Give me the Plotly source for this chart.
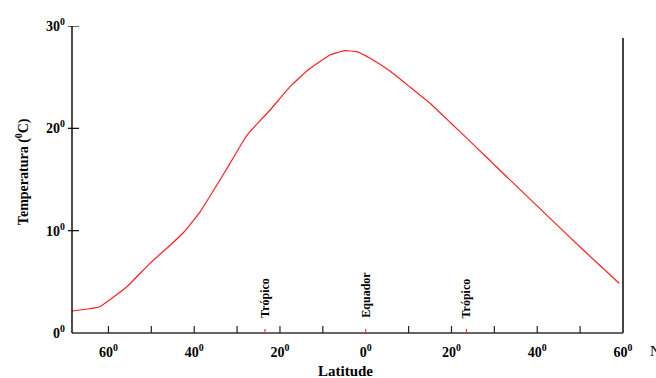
import plotly.graph_objects as go

# Mean surface temperature by latitude (south negative, north positive)
latitude = [-68.5, -62.0, -55.7, -50.3, -45.3, -42.5, -38.65, -34.0, -31.65, -28.16,
            -27.0, -22.3, -17.66, -13.46, -8.37, -4.87, -2.11, 1.0, 5.66, 10.32,
            14.99, 19.65, 23.92, 32.87, 42.58, 50.74, 59.1]
temperature = [2.15, 2.57, 4.52, 6.81, 8.7, 9.82, 11.82, 14.95, 16.58, 19.03,
               19.67, 21.79, 24.07, 25.7, 27.17, 27.59, 27.49, 26.84, 25.6, 24.04,
               22.45, 20.6, 18.9, 15.27, 11.37, 8.11, 4.86]

x_tick_vals = [-60, -40, -20, 0, 20, 40, 60]
x_tick_text = ["60", "40", "20", "0", "20", "40", "60"]
x_minor_marks = [-60, -50, -40, -30, -20, -10, 10, 20, 30, 40, 50]
y_tick_vals = [0, 10, 20, 30]
y_tick_text = ["0", "10", "20", "30"]

markers = [(-23.5, "Trópico"), (0, "Equador"), (23.5, "Trópico")]

FONT = "Liberation Serif"
X_RANGE = [-68.5, 60]
Y_RANGE = [0, 30]
PLOT_W = 551  # plot area width in px
PLOT_H = 307  # plot area height in px

fig = go.Figure()
fig.add_trace(go.Scatter(
    x=latitude, y=temperature, mode="lines",
    line=dict(color="#ff2020", width=1.2, shape="spline", smoothing=0.3),
    hoverinfo="skip", showlegend=False,
))

shapes = []
# bottom axis line
shapes.append(dict(type="line", xref="paper", yref="paper", x0=0, x1=1, y0=0, y1=0,
                   line=dict(color="#333333", width=1.6)))
# left axis line
shapes.append(dict(type="line", xref="paper", yref="paper", x0=0, x1=0, y0=0, y1=1,
                   line=dict(color="black", width=1.4)))
# right axis line
shapes.append(dict(type="line", xref="paper", yref="paper", x0=1, x1=1, y0=0, y1=295 / PLOT_H,
                   line=dict(color="#444444", width=2)))
# latitude ticks
for v in x_minor_marks:
    shapes.append(dict(type="line", xref="x", yref="paper", x0=v, x1=v, y0=0, y1=7 / PLOT_H,
                       line=dict(color="#222222", width=1.2)))
# tropic / equator marks
for v, _ in markers:
    shapes.append(dict(type="line", xref="x", yref="paper", x0=v, x1=v, y0=0, y1=4 / PLOT_H,
                       line=dict(color="#ff3030", width=1.2)))
# temperature ticks crossing the axis
for v in y_tick_vals[1:]:
    shapes.append(dict(type="line", xref="paper", yref="y", x0=-4 / PLOT_W, x1=7 / PLOT_W,
                       y0=v, y1=v, line=dict(color="black", width=1.2)))

annotations = []
for v, name in markers:
    annotations.append(dict(x=v, y=0, xref="x", yref="paper", yshift=13,
                            text="<b>%s</b>" % name, textangle=-90, showarrow=False,
                            xanchor="center", yanchor="bottom",
                            font=dict(family=FONT, size=12, color="black")))
# hemisphere marker after the last latitude label
annotations.append(dict(x=1, y=0, xref="paper", yref="paper", xshift=25, yshift=-18,
                        text="N", showarrow=False, xanchor="left", yanchor="middle",
                        font=dict(family=FONT, size=15, color="black")))
# axis titles
annotations.append(dict(x=0.4955, y=0, xref="paper", yref="paper", yshift=-38,
                        text="<b>Latitude</b>", showarrow=False,
                        xanchor="center", yanchor="middle",
                        font=dict(family=FONT, size=15, color="black")))
annotations.append(dict(x=0, y=0.524, xref="paper", yref="paper", xshift=-50,
                        text="<b>Temperatura (<sup>0</sup>C)</b>", textangle=-90,
                        showarrow=False, xanchor="center", yanchor="middle",
                        font=dict(family=FONT, size=14, color="black")))

fig.update_layout(
    width=656, height=378,
    margin=dict(l=72, r=33, t=26, b=45),
    paper_bgcolor="white", plot_bgcolor="white",
    shapes=shapes, annotations=annotations,
    font=dict(family=FONT, color="black"),
    xaxis=dict(
        range=X_RANGE, showgrid=False, zeroline=False, showline=False,
        tickmode="array", tickvals=x_tick_vals,
        ticktext=["<b>%s<sup>0</sup></b>" % t for t in x_tick_text],
        ticks="", ticklabelstandoff=9,
        tickfont=dict(family=FONT, size=14, color="black"),
    ),
    yaxis=dict(
        range=Y_RANGE, showgrid=False, zeroline=False, showline=False,
        tickmode="array", tickvals=y_tick_vals,
        ticktext=["<b>%s<sup>0</sup></b>" % t for t in y_tick_text],
        ticks="", ticklabelstandoff=6,
        tickfont=dict(family=FONT, size=14, color="black"),
    ),
)

fig.write_html("out.html")
